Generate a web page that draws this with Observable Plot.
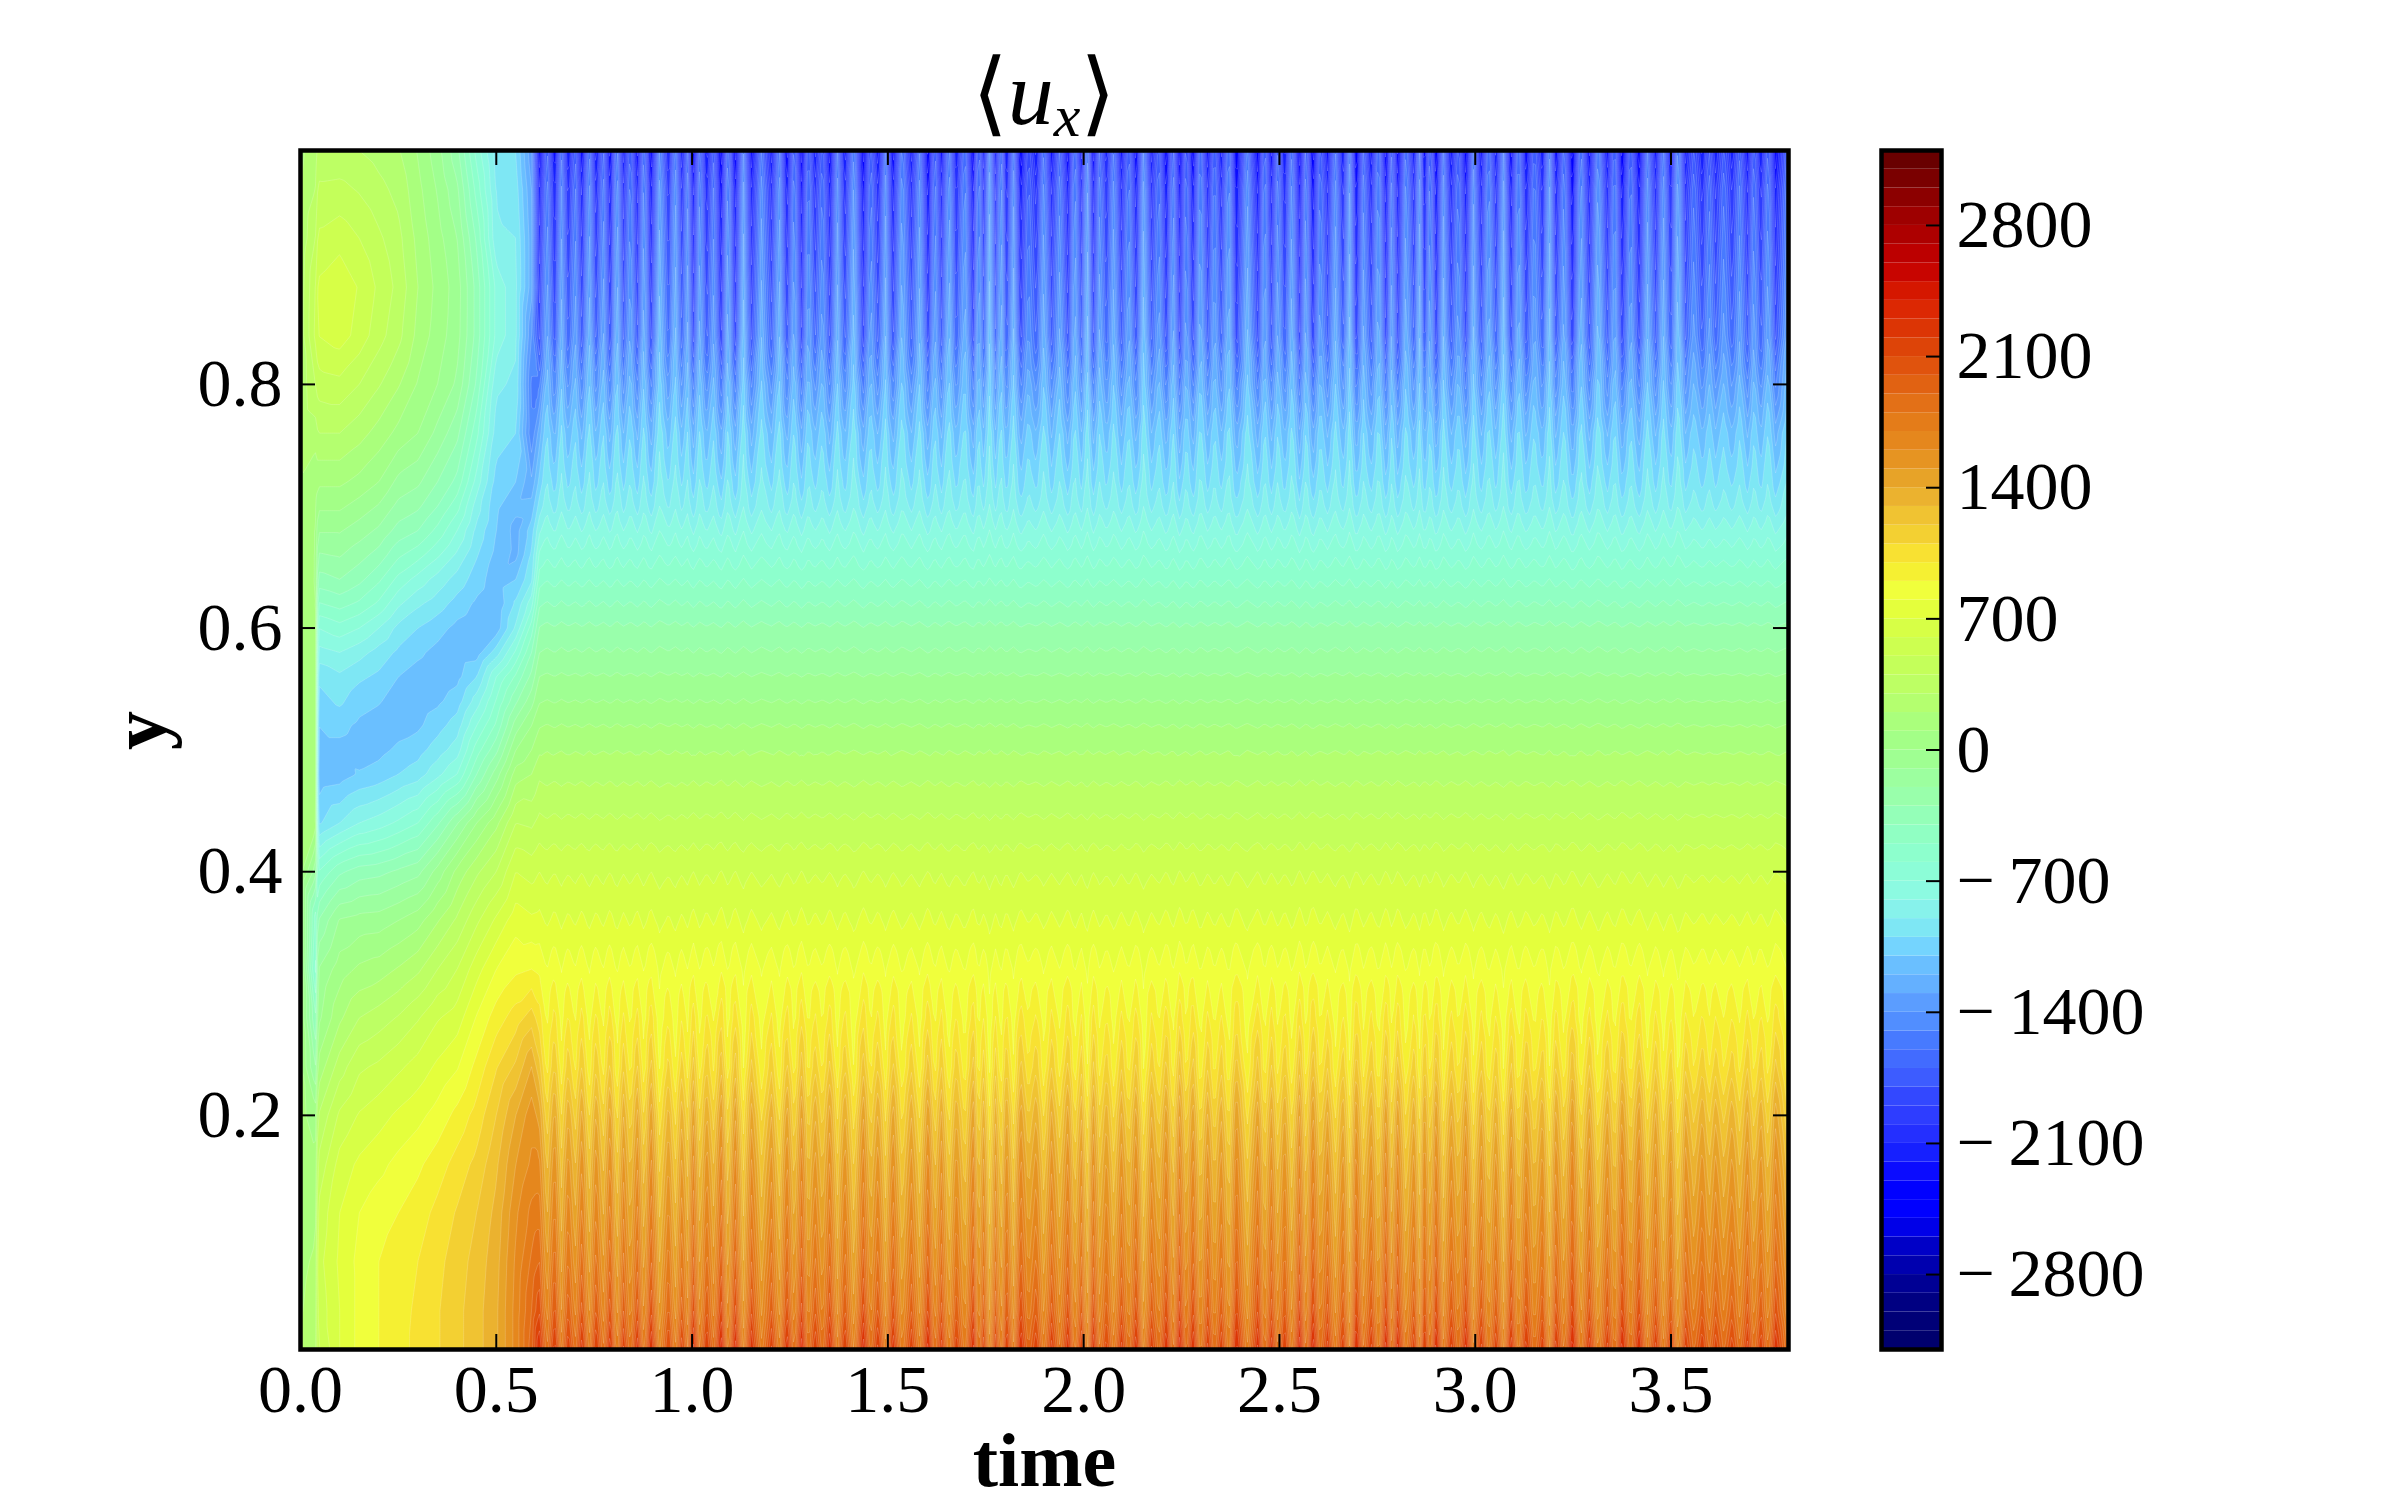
<!DOCTYPE html>
<html>
<head>
<meta charset="utf-8">
<script src="https://cdn.jsdelivr.net/npm/d3@7"></script>
<script src="https://cdn.jsdelivr.net/npm/@observablehq/plot@0.6"></script>
<style>
html,body{margin:0;padding:0;background:#fff}
#stage{position:relative;width:2400px;height:1500px;overflow:hidden;font-family:"Liberation Serif",serif}
#stage svg{position:absolute;top:0;overflow:visible}
#title{position:absolute;left:844px;width:400px;top:38px;text-align:center;font-size:92px;line-height:110px;color:#000;white-space:nowrap}
#title i{font-family:"Liberation Serif"}
#title sub{font-size:60px;font-style:italic;line-height:0;vertical-align:-12px}
#title .br{font-family:"DejaVu Sans";font-size:92px;font-weight:200}
</style>
</head>
<body>
<div id="stage"><div id="title"><span class="br">⟨</span><i>u</i><sub>x</sub><span class="br">⟩</span></div></div>
<script>
const xTicks = [0, 0.5, 1, 1.5, 2, 2.5, 3, 3.5];
const yTicks = [0.2, 0.4, 0.6, 0.8];
const barTicks = [-2800, -2100, -1400, -700, 0, 700, 1400, 2100, 2800];
const levels = d3.range(-3200, 3201, 100);

// colours: value, colour
const barValues = [-3150,-2985,-2880,-2770,-2660,-2575,-2460,-2360,-2260,-2160,-2060,-1960,-1860,-1760,-1660,-1560,-1460,-1360,-1260,-1155,-1060,-960,-800,-600,-400,-200,0,100,300,500,650,750,850,950,1050,1150,1250,1400,1500,1600,1700,1800,1900,2000,2100,2200,2300,2400,2500,2600,2700,2800,2900,3000,3150];
const barColors = ["#00006e","#00007d","#00008c","#0000aa","#0000c3","#0000e1","#0000ff","#0000ff","#0a0aff","#141eff","#232dff","#2d3cff","#3246ff","#3c5aff","#4169ff","#4678ff","#508cff","#5a9bff","#64afff","#69beff","#73d2ff","#7de6f5","#8cf8e6","#8cffd2","#91ffbe","#9bffa5","#a0ff8c","#a5ff82","#b9ff69","#c8ff55","#d7ff46","#e4ff3c","#f0ff3c","#f5f032","#f8e132","#f3d032","#f0c332","#e8aa2d","#e69b23","#e68c20","#e48219","#e47619","#e16914","#e15a0f","#de4b0a","#dc3c05","#dc2d05","#dc2300","#cd0a00","#c30000","#b40000","#a50000","#960000","#820000","#690000"];

// heights sampled, top to bottom
const yRows = [.992,.96,.92,.88,.84,.80,.76,.72,
  .70,.68,.66,.64,.62,.60,.58,.56,.54,.52,.50,.48,
  .44,.40,.36,.32,.28,.24,.20,.16,.12,.08,.04,.0078];

// start-up phase: one list per time, values in yRows order
const earlyTimes = [0,.038,.045,.1,.15,.2,.25,.3,.35,.4,.45,.5,.55,.59];
const earlyField = [
 [180,200,220,240,240,230,210,190, 180,170,165,160,160,160,160,160,160,160,160,160, 150,130,120,110,110,120,130,140,150,170,190,210],
 [250,300,400,500,520,400,250,120, 110,100,100,100,120,150,160,170,170,170,170,170, 150,-150,-550,-640,-400,-210,50,120,170,220,250,280],
 [330,420,520,620,600,450,300,120, 20,-90,-210,-340,-510,-700,-840,-980,-1040,-1100,-1130,-1170, -1020,-600,-300,-100,-30,130,300,420,520,560,530,480],
 [320,430,560,680,650,470,300,120, 20,-90,-190,-300,-460,-640,-800,-920,-980,-1070,-1130,-1150, -900,-420,-90,50,180,350,520,640,700,720,700,700],
 [300,390,500,590,560,400,240,70, -40,-150,-260,-370,-520,-700,-860,-980,-1060,-1120,-1150,-1090, -800,-350,-60,120,300,480,610,720,800,830,830,830],
 [260,330,420,480,440,310,160,0, -110,-220,-340,-480,-620,-800,-940,-1020,-1090,-1150,-1130,-1060, -750,-330,-50,150,350,520,660,770,860,900,900,900],
 [210,270,330,370,330,210,70,-130, -230,-340,-480,-630,-780,-930,-1020,-1100,-1150,-1140,-1080,-1000, -680,-280,0,210,410,580,720,830,900,950,960,960],
 [90,130,170,200,170,90,0,-180, -280,-400,-560,-740,-880,-1000,-1080,-1140,-1160,-1120,-1040,-950, -600,-230,60,280,490,640,770,880,950,1000,1020,1030],
 [-60,-10,40,70,50,0,-130,-300, -400,-530,-680,-840,-950,-1060,-1130,-1170,-1120,-1040,-950,-830, -420,-60,190,400,590,720,840,950,1030,1070,1090,1090],
 [-270,-180,-100,-50,-60,-120,-270,-430, -560,-700,-820,-940,-1040,-1130,-1170,-1130,-1050,-950,-850,-700, -210,130,320,500,650,790,930,1040,1110,1150,1170,1170],
 [-640,-540,-420,-340,-340,-420,-570,-740, -850,-930,-990,-1050,-1120,-1170,-1150,-1000,-850,-700,-550,-400, 0,280,480,660,810,930,1040,1130,1200,1240,1260,1260],
 [-950,-910,-880,-730,-730,-880,-950,-1040, -1080,-1100,-1130,-1160,-1180,-1160,-950,-700,-590,-480,-330,-150, 170,400,620,800,950,1090,1200,1280,1330,1360,1380,1380],
 [-1000,-950,-900,-880,-880,-920,-1000,-1100, -1170,-1240,-1230,-1100,-980,-880,-680,-480,-320,-150,0,150, 400,600,760,880,1050,1220,1400,1500,1580,1620,1640,1640],
 [-1380,-1300,-1260,-1260,-1400,-1520,-1480,-1280, -1160,-1050,-980,-920,-740,-550,-400,-270,-140,0,100,200, 380,560,720,900,1150,1400,1560,1620,1730,1820,1900,1950]
];

// settled phase: time-mean profile and stripe strength, in yRows order
const meanProfile = [-1950,-1780,-1680,-1580,-1480,-1280,-1090,-960,
  -880,-760,-640,-520,-400,-280,-190,-90,0,100,190,270,
  420,580,700,830,940,1060,1250,1400,1520,1650,1800,2000];
const stripeAmp = [-450,-420,-400,-370,-350,-240,-160,-110,
  -80,-60,-40,-25,-20,-15,-12,-10,-10,-10,-10,10,
  12,20,30,50,110,170,210,220,235,255,285,320];

// dark stripes
const darkTimes = [
 .610,.649,.684,.719,.755,.791,.825,.860,.895,.940,
 .974,1.003,1.037,1.074,1.110,1.152,1.203,1.242,1.280,1.314,
 1.352,1.390,1.437,1.475,1.513,1.560,1.603,1.637,1.675,1.718,
 1.745,1.775,1.803,1.839,1.879,1.918,1.960,1.994,2.024,2.058,
 2.096,2.134,2.173,2.211,2.245,2.279,2.317,2.351,2.390,2.445,
 2.479,2.513,2.551,2.585,2.623,2.662,2.696,2.734,2.772,2.802,
 2.844,2.870,2.900,2.938,2.976,3.015,3.053,3.091,3.130,3.172,
 3.206,3.248,3.291,3.337,3.375,3.418,3.461,3.499,3.537,3.580,
 3.614,3.656,3.695,3.729,3.767];
const darkDepth = [
 1,.9,.7,.9,.8,1,.7,.9,1.1,.5,
 .6,1.1,.8,1.3,1.2,1,.7,1,1.2,.7,
 1,.8,1.2,.8,1,.7,1.2,.8,.7,1.1,
 .6,.6,.8,1.1,.7,.8,1,.7,1,.6,
 .8,1,.7,1.1,1.2,1.1,.8,.7,1.2,1.1,
 .9,.8,1.2,1.3,.8,.7,1.2,.8,1.2,1.1,
 .7,.9,1.2,.8,1.1,.8,.7,1,.9,.7,
 .9,1.3,.9,.8,1.2,1.1,.8,.7,.7,.7,
 .6,.6,.8,.7,1];
const ridgeLift = [
 .6,.7,.5,.8,.6,.9,.6,.8,1.05,.9,
 .6,.7,.5,.8,1,.8,.85,.7,.6,.5,
 .8,1,.5,.8,.9,.8,.6,.9,.8,.7,
 1.1,.8,.85,.3,.8,.6,.8,1,.6,.8,
 .6,1.05,.5,.7,.5,.8,.6,.85,.9,.7,
 .6,.8,.7,.5,.8,.9,.6,.8,.6,.8,
 .85,.6,.8,.5,.85,.8,1,.8,.6,1,
 .7,.85,1,.7,.6,.8,.85,1.1,.4,.4,
 .4,.5,.5,.6,.8];
const lastTime = 3.8;

// table the contour mark reads
const grid = [];
earlyTimes.forEach((t, c) => yRows.forEach((y, r) => grid.push({t, y, v: earlyField[c][r]})));
darkTimes.forEach((t, c) => {
  const next = c + 1 < darkTimes.length ? darkTimes[c + 1] : lastTime;
  const mid = c + 1 < darkTimes.length ? (t + next) / 2 : lastTime;
  yRows.forEach((y, r) => {
    grid.push({t, y, v: meanProfile[r] + stripeAmp[r] * darkDepth[c]});
    grid.push({t: mid, y, v: meanProfile[r] - stripeAmp[r] * ridgeLift[c]});
  });
});

// a band takes the colour of its midpoint; bands are named by their lower edge
const colorScale = {
  type: "linear",
  domain: barValues.map(v => v - 50),
  range: barColors,
  interpolate: "rgb",
  clamp: true
};

const serif = "Liberation Serif";
const tickFont = 68;
const fmt = v => (v < 0 ? "\u2212\u2009" + (-v) : String(v));

const main = Plot.plot({
  width: 2400, height: 1500,
  marginLeft: 300, marginRight: 612, marginTop: 150, marginBottom: 151,
  style: {background: "transparent"},
  x: {domain: [0, 3.8]},
  y: {domain: [.0078, .992]},
  color: colorScale,
  marks: [
    Plot.contour(grid, {x: "t", y: "y", value: "v", fill: "value", thresholds: levels,
      interpolate: "barycentric", pixelSize: 2, clip: true,
      stroke: "#fff", strokeOpacity: 0.18, strokeWidth: 1}),
    Plot.tickX(xTicks, {x: d => d, insetTop: 1184, stroke: "#000", strokeWidth: 2}),
    Plot.tickX(xTicks, {x: d => d, insetBottom: 1184, stroke: "#000", strokeWidth: 2}),
    Plot.tickY(yTicks, {y: d => d, insetRight: 1473, stroke: "#000", strokeWidth: 2}),
    Plot.tickY(yTicks, {y: d => d, insetLeft: 1473, stroke: "#000", strokeWidth: 2}),
    Plot.axisX(xTicks, {anchor: "bottom", tickSize: 0, tickPadding: 14, label: null,
      tickFormat: d => d.toFixed(1), fontSize: tickFont, fontFamily: serif, lineAnchor: "top", fill: "#000"}),
    Plot.axisY(yTicks, {anchor: "left", tickSize: 0, tickPadding: 18, label: null,
      tickFormat: d => d.toFixed(1), fontSize: tickFont, fontFamily: serif, fill: "#000"}),
    Plot.text(["time"], {frameAnchor: "bottom", dy: 136, text: d => d, fontSize: 76, fontWeight: "bold", fontFamily: serif, fill: "#000"}),
    Plot.text(["y"], {frameAnchor: "left", dx: -160, rotate: -90, text: d => d, fontSize: 78, fontWeight: "bold", fontFamily: serif, fill: "#000"}),
    Plot.frame({stroke: "#000", strokeWidth: 4.5})
  ]
});
main.style.left = "0px";

const bar = Plot.plot({
  width: 540, height: 1500,
  marginLeft: 20, marginRight: 460, marginTop: 150, marginBottom: 151,
  style: {background: "transparent"},
  x: {axis: null, domain: [0, 1]},
  y: {domain: [-3200, 3200], axis: null},
  color: colorScale,
  marks: [
    Plot.rectY(levels.slice(0, -1), {x1: 0, x2: 1, y1: d => d, y2: d => d + 100, fill: d => d}),
    Plot.tickY(barTicks, {y: d => d, insetLeft: 45, stroke: "#000", strokeWidth: 2}),
    Plot.axisY(barTicks, {anchor: "right", tickSize: 0, tickPadding: 15, label: null,
      tickFormat: fmt, textAnchor: "start", fontSize: tickFont, fontFamily: serif, fill: "#000"}),
    Plot.frame({stroke: "#000", strokeWidth: 4.5})
  ]
});
bar.style.left = "1861px";

const stage = document.getElementById("stage");
stage.insertBefore(main, stage.firstChild);
stage.appendChild(bar);
</script>
</body>
</html>
